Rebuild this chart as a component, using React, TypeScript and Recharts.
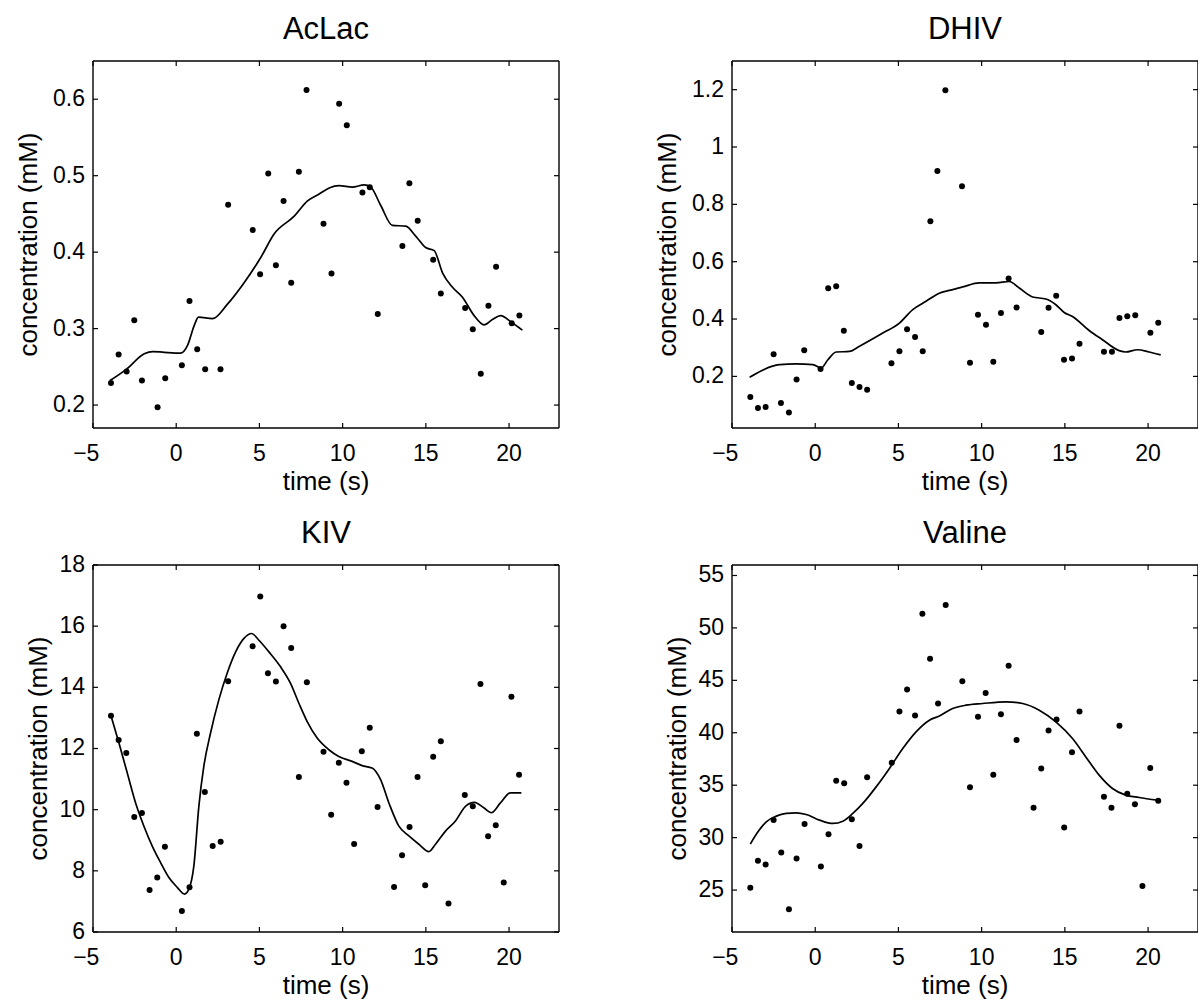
import React from "react";
import { ComposedChart, Line, Scatter, XAxis, YAxis, ReferenceLine, Label } from "recharts";

const FONT = '"Liberation Sans", Arial, Helvetica, sans-serif';

const timeTicks = [-5, 0, 5, 10, 15, 20];
const timeDomain: [number, number] = [-5, 23];

// AcLac
const aclacPoints: [number, number][] = [
  [-3.92, 0.229], [-3.46, 0.266], [-2.98, 0.244], [-2.52, 0.311], [-2.06, 0.232],
  [-1.12, 0.197], [-0.66, 0.235], [0.34, 0.252], [0.8, 0.336], [1.26, 0.273],
  [1.74, 0.247], [2.66, 0.247], [3.12, 0.462], [4.6, 0.429], [5.04, 0.371],
  [5.53, 0.503], [5.99, 0.383], [6.45, 0.467], [6.91, 0.36], [7.37, 0.505],
  [7.83, 0.612], [8.85, 0.437], [9.33, 0.372], [9.79, 0.594], [10.25, 0.566],
  [11.19, 0.478], [11.63, 0.485], [12.11, 0.319], [13.59, 0.408], [14.01, 0.49],
  [14.51, 0.441], [15.44, 0.39], [15.9, 0.346], [17.36, 0.327], [17.82, 0.299],
  [18.3, 0.241], [18.76, 0.33], [19.22, 0.381], [20.16, 0.307], [20.62, 0.317],
];
const aclacFit: [number, number][] = [
  [-3.98, 0.232], [-2.98, 0.247], [-1.92, 0.267], [-1.42, 0.27], [-0.72, 0.269],
  [0.28, 0.268], [0.68, 0.278], [1.08, 0.304], [1.34, 0.315], [2.18, 0.313],
  [3.08, 0.332], [4.08, 0.36], [5.08, 0.393], [5.89, 0.424], [7.09, 0.447],
  [7.89, 0.467], [8.59, 0.476], [9.19, 0.484], [9.79, 0.487], [10.59, 0.485],
  [11.29, 0.488], [11.69, 0.485], [12.29, 0.461], [12.99, 0.435], [13.79, 0.434],
  [14.39, 0.421], [14.99, 0.406], [15.5, 0.402], [16.0, 0.373], [16.6, 0.354],
  [17.2, 0.341], [17.9, 0.317], [18.5, 0.305], [19.0, 0.312], [19.5, 0.317],
  [20.1, 0.309], [20.8, 0.298],
];
const aclacTicks = [0.2, 0.3, 0.4, 0.5, 0.6];

// DHIV
const dhivPoints: [number, number][] = [
  [-3.9, 0.128], [-3.44, 0.09], [-2.98, 0.093], [-2.5, 0.277], [-2.06, 0.107],
  [-1.58, 0.074], [-1.12, 0.189], [-0.66, 0.291], [0.32, 0.226], [0.78, 0.507],
  [1.26, 0.514], [1.72, 0.359], [2.2, 0.177], [2.66, 0.163], [3.12, 0.153],
  [4.58, 0.246], [5.06, 0.288], [5.52, 0.364], [6.0, 0.337], [6.46, 0.288],
  [6.92, 0.741], [7.34, 0.916], [7.82, 1.198], [8.82, 0.863], [9.3, 0.248],
  [9.78, 0.415], [10.26, 0.38], [10.7, 0.251], [11.16, 0.421], [11.62, 0.541],
  [12.1, 0.44], [13.58, 0.355], [14.02, 0.439], [14.48, 0.481], [14.95, 0.258],
  [15.43, 0.262], [15.88, 0.314], [17.35, 0.286], [17.83, 0.286], [18.28, 0.404],
  [18.75, 0.41], [19.23, 0.413], [20.14, 0.352], [20.61, 0.387],
];
const dhivFit: [number, number][] = [
  [-3.94, 0.197], [-2.14, 0.241], [-1.14, 0.244], [-0.14, 0.241], [0.36, 0.229],
  [0.76, 0.258], [1.26, 0.285], [2.06, 0.287], [2.66, 0.305], [4.06, 0.351],
  [5.06, 0.386], [5.86, 0.433], [6.66, 0.462], [7.46, 0.49], [8.06, 0.5],
  [8.86, 0.512], [9.86, 0.526], [10.86, 0.526], [11.66, 0.531], [12.26, 0.508],
  [13.06, 0.477], [13.86, 0.47], [14.46, 0.45], [14.96, 0.423], [15.46, 0.409],
  [16.46, 0.36], [17.26, 0.328], [18.26, 0.29], [18.66, 0.285], [19.36, 0.293],
  [20.06, 0.285], [20.76, 0.275],
];
const dhivTicks = [0.2, 0.4, 0.6, 0.8, 1, 1.2];

// KIV
const kivPoints: [number, number][] = [
  [-3.92, 13.07], [-3.46, 12.28], [-3.0, 11.85], [-2.52, 9.76], [-2.06, 9.89],
  [-1.6, 7.37], [-1.14, 7.78], [-0.68, 8.79], [0.34, 6.69], [0.8, 7.46],
  [1.24, 12.48], [1.72, 10.58], [2.19, 8.81], [2.67, 8.95], [3.12, 14.2],
  [4.59, 15.34], [5.05, 16.97], [5.51, 14.46], [5.99, 14.19], [6.45, 16.0],
  [6.91, 15.29], [7.37, 11.07], [7.85, 14.17], [8.85, 11.89], [9.31, 9.83],
  [9.77, 11.53], [10.23, 10.88], [10.69, 8.88], [11.15, 11.91], [11.63, 12.68],
  [12.1, 10.09], [13.09, 7.47], [13.57, 8.51], [14.02, 9.43], [14.5, 11.07],
  [14.96, 7.53], [15.44, 11.73], [15.9, 12.24], [16.36, 6.93], [17.34, 10.48],
  [17.82, 10.11], [18.28, 14.11], [18.74, 9.13], [19.2, 9.49], [19.68, 7.62],
  [20.14, 13.69], [20.6, 11.14],
];
const kivFit: [number, number][] = [
  [-3.92, 13.07], [-3.44, 12.18], [-2.94, 11.2], [-2.44, 10.22], [-1.94, 9.46],
  [-1.44, 8.81], [-0.94, 8.27], [-0.44, 7.78], [0.06, 7.46], [0.5, 7.24],
  [0.76, 7.4], [1.06, 8.16], [1.36, 10.11], [1.66, 11.42], [2.06, 12.5],
  [2.56, 13.59], [3.06, 14.46], [3.57, 15.16], [4.07, 15.6], [4.53, 15.76],
  [4.97, 15.54], [5.57, 15.16], [6.27, 14.67], [6.87, 14.13], [7.37, 13.48],
  [7.87, 12.88], [8.47, 12.34], [9.17, 11.96], [9.77, 11.74], [10.57, 11.58],
  [11.17, 11.44], [11.77, 11.36], [12.28, 10.98], [12.78, 10.22], [13.38, 9.46],
  [13.98, 9.14], [14.58, 8.87], [15.18, 8.63], [15.58, 8.87], [16.18, 9.3],
  [16.78, 9.63], [17.38, 10.11], [17.92, 10.24], [18.48, 10.06], [18.94, 9.9],
  [19.48, 10.22], [20.08, 10.55], [20.74, 10.55],
];
const kivTicks = [6, 8, 10, 12, 14, 16, 18];

// Valine
const valinePoints: [number, number][] = [
  [-3.9, 25.21], [-3.44, 27.79], [-2.98, 27.44], [-2.5, 31.67], [-2.04, 28.59],
  [-1.58, 23.18], [-1.12, 28.02], [-0.64, 31.29], [0.34, 27.25], [0.8, 30.33],
  [1.26, 35.42], [1.74, 35.19], [2.2, 31.76], [2.66, 29.19], [3.12, 35.77],
  [4.6, 37.13], [5.06, 42.03], [5.52, 44.13], [6.0, 41.65], [6.44, 51.34],
  [6.9, 47.05], [7.38, 42.79], [7.84, 52.19], [8.84, 44.92], [9.3, 34.81],
  [9.78, 41.52], [10.24, 43.8], [10.7, 35.99], [11.16, 41.77], [11.62, 46.38],
  [12.1, 39.32], [13.12, 32.84], [13.58, 36.6], [14.02, 40.22], [14.5, 41.27],
  [14.96, 30.97], [15.43, 38.15], [15.88, 42.03], [17.35, 33.89], [17.8, 32.84],
  [18.28, 40.66], [18.75, 34.18], [19.21, 33.19], [19.66, 25.38], [20.13, 36.65],
  [20.61, 33.51],
];
const valineFit: [number, number][] = [
  [-3.9, 29.38], [-3.44, 30.55], [-2.94, 31.51], [-2.34, 32.05], [-1.74, 32.31],
  [-1.14, 32.37], [-0.54, 32.21], [0.26, 31.67], [1.06, 31.35], [1.66, 31.57],
  [2.26, 32.31], [2.86, 33.26], [3.66, 34.84], [4.46, 36.6], [5.26, 38.5],
  [6.06, 40.09], [6.86, 41.2], [7.46, 41.6], [8.26, 42.32], [9.06, 42.63],
  [10.06, 42.79], [11.46, 42.95], [12.46, 42.79], [13.46, 42.15], [14.46, 41.04],
  [15.46, 39.45], [16.26, 37.7], [17.06, 35.96], [17.86, 34.69], [18.66, 34.05],
  [19.46, 33.83], [20.56, 33.57],
];
const valineTicks = [25, 30, 35, 40, 45, 50, 55];

const toRows = (arr: [number, number][]) => arr.map(([t, y]) => ({ t, y }));

const PLOT_W = 466;
const PLOT_H = 367;
const Y_AXIS_W = 93;
const TOP = 61;
const X_AXIS_H = 72;
const TICK_LEN = 5;
const TICK_FONT = 23;
const LABEL_FONT = 26;
const TITLE_FONT = 31;
const AXIS_W = 1.4;

const Dot = (p: any) => <circle cx={p.cx} cy={p.cy} r={3} fill="#000" />;

// bottom tick: inward tick on bottom and top edge plus label (minus hangs left like MATLAB)
const XTick = (p: any) => {
  const x = p.x;
  const v = p.payload.value as number;
  const yb = TOP + PLOT_H;
  const half = 0.278 * TICK_FONT;
  return (
    <g>
      <line x1={x} x2={x} y1={yb} y2={yb - TICK_LEN} stroke="#000" strokeWidth={1.2} />
      <line x1={x} x2={x} y1={TOP} y2={TOP + TICK_LEN} stroke="#000" strokeWidth={1.2} />
      <text x={x} y={yb + 33} textAnchor="middle" fontSize={TICK_FONT} fontFamily={FONT} fill="#000">
        {String(Math.abs(v))}
      </text>
      {v < 0 && (
        <text x={x - half} y={yb + 33} textAnchor="end" fontSize={TICK_FONT} fontFamily={FONT} fill="#000">
          {"\u2212"}
        </text>
      )}
    </g>
  );
};

const YTick = (p: any) => {
  const y = p.y;
  const v = p.payload.value as number;
  return (
    <g>
      <line x1={Y_AXIS_W} x2={Y_AXIS_W + TICK_LEN} y1={y} y2={y} stroke="#000" strokeWidth={1.2} />
      <line x1={Y_AXIS_W + PLOT_W} x2={Y_AXIS_W + PLOT_W - TICK_LEN} y1={y} y2={y} stroke="#000" strokeWidth={1.2} />
      <text x={Y_AXIS_W - 8} y={y} dy="0.3em" textAnchor="end" fontSize={TICK_FONT} fontFamily={FONT} fill="#000">
        {String(v)}
      </text>
    </g>
  );
};

type PanelProps = {
  title: string;
  left: number;
  top: number;
  labelX: number;
  points: [number, number][];
  fit: [number, number][];
  yDomain: [number, number];
  yTicks: number[];
};

function Panel({ title, left, top, labelX, points, fit, yDomain, yTicks }: PanelProps) {
  const w = Y_AXIS_W + PLOT_W + 10;
  const h = TOP + PLOT_H + X_AXIS_H;
  const cy = TOP + PLOT_H / 2;
  return (
    <div style={{ position: "absolute", left: left - Y_AXIS_W, top: top - TOP, width: w, height: h }}>
      <ComposedChart width={w} height={h} margin={{ top: TOP, right: 10, bottom: 0, left: 0 }}>
        <XAxis
          dataKey="t"
          type="number"
          domain={timeDomain}
          ticks={timeTicks}
          allowDataOverflow
          height={X_AXIS_H}
          tickLine={false}
          stroke="#000"
          strokeWidth={AXIS_W}
          tick={XTick}
        >
          <Label
            content={() => (
              <text
                x={Y_AXIS_W + PLOT_W / 2}
                y={TOP + PLOT_H + 62}
                textAnchor="middle"
                fontSize={LABEL_FONT}
                fontFamily={FONT}
                fill="#000"
              >
                time (s)
              </text>
            )}
          />
        </XAxis>
        <YAxis
          dataKey="y"
          type="number"
          domain={yDomain}
          ticks={yTicks}
          allowDataOverflow
          width={Y_AXIS_W}
          tickLine={false}
          stroke="#000"
          strokeWidth={AXIS_W}
          tick={YTick}
        >
          <Label
            content={() => (
              <text
                x={labelX}
                y={cy}
                transform={`rotate(-90 ${labelX} ${cy})`}
                textAnchor="middle"
                fontSize={LABEL_FONT}
                fontFamily={FONT}
                fill="#000"
              >
                concentration (mM)
              </text>
            )}
          />
        </YAxis>
        <ReferenceLine x={timeDomain[1]} stroke="#000" strokeWidth={AXIS_W} />
        <ReferenceLine y={yDomain[1]} stroke="#000" strokeWidth={AXIS_W} />
        <Scatter data={toRows(points)} dataKey="y" fill="#000" shape={Dot} isAnimationActive={false} />
        <Line
          data={toRows(fit)}
          dataKey="y"
          type="monotone"
          stroke="#000"
          strokeWidth={1.7}
          dot={false}
          activeDot={false}
          isAnimationActive={false}
        />
      </ComposedChart>
      <div
        style={{
          position: "absolute",
          left: Y_AXIS_W,
          width: PLOT_W,
          top: TOP - 21 - 28,
          textAlign: "center",
          fontSize: TITLE_FONT,
          lineHeight: "34px",
          fontFamily: FONT,
          color: "#000",
          whiteSpace: "nowrap",
        }}
      >
        {title}
      </div>
    </div>
  );
}

export default function App() {
  return (
    <div style={{ position: "absolute", left: 0, top: 0, width: 1198, height: 1000, overflow: "hidden", background: "#fff" }}>
      <Panel title="AcLac" left={93} top={61} labelX={37} points={aclacPoints} fit={aclacFit} yDomain={[0.17, 0.65]} yTicks={aclacTicks} />
      <Panel title="DHIV" left={732} top={61} labelX={37} points={dhivPoints} fit={dhivFit} yDomain={[0.02, 1.3]} yTicks={dhivTicks} />
      <Panel title="KIV" left={93} top={565} labelX={47} points={kivPoints} fit={kivFit} yDomain={[6, 18]} yTicks={kivTicks} />
      <Panel title="Valine" left={732} top={565} labelX={47} points={valinePoints} fit={valineFit} yDomain={[21, 56]} yTicks={valineTicks} />
    </div>
  );
}
